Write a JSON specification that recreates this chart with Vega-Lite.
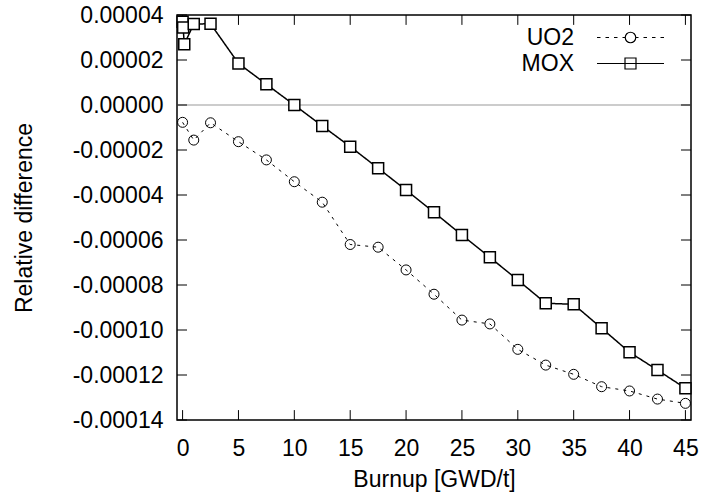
{
  "$schema": "https://vega.github.io/schema/vega-lite/v6.json",
  "width": 514,
  "height": 405,
  "autosize": "none",
  "padding": {"left": 177, "top": 15, "right": 12, "bottom": 77},
  "background": "white",
  "config": {
    "view": {"stroke": "black", "strokeWidth": 1.5},
    "font": "Liberation Sans",
    "axis": {
      "labelFont": "Liberation Sans", "titleFont": "Liberation Sans",
      "labelFontSize": 23, "titleFontSize": 23,
      "labelColor": "black", "titleColor": "black", "titleFontWeight": "normal"
    },
    "legend": {"labelFont": "Liberation Sans", "labelFontSize": 23, "labelColor": "black"}
  },
  "datasets": {
    "d": [
      {"series": "UO2", "x": 0, "y": -7.7e-6},
      {"series": "UO2", "x": 1, "y": -1.56e-5},
      {"series": "UO2", "x": 2.5, "y": -7.9e-6},
      {"series": "UO2", "x": 5, "y": -1.63e-5},
      {"series": "UO2", "x": 7.5, "y": -2.44e-5},
      {"series": "UO2", "x": 10, "y": -3.41e-5},
      {"series": "UO2", "x": 12.5, "y": -4.32e-5},
      {"series": "UO2", "x": 15, "y": -6.2e-5},
      {"series": "UO2", "x": 17.5, "y": -6.32e-5},
      {"series": "UO2", "x": 20, "y": -7.33e-5},
      {"series": "UO2", "x": 22.5, "y": -8.41e-5},
      {"series": "UO2", "x": 25, "y": -9.56e-5},
      {"series": "UO2", "x": 27.5, "y": -9.73e-5},
      {"series": "UO2", "x": 30, "y": -1.086e-4},
      {"series": "UO2", "x": 32.5, "y": -1.156e-4},
      {"series": "UO2", "x": 35, "y": -1.197e-4},
      {"series": "UO2", "x": 37.5, "y": -1.252e-4},
      {"series": "UO2", "x": 40, "y": -1.271e-4},
      {"series": "UO2", "x": 42.5, "y": -1.307e-4},
      {"series": "UO2", "x": 45, "y": -1.326e-4},
      {"series": "MOX", "x": 0, "y": 3.7e-5},
      {"series": "MOX", "x": 0.05, "y": 3.45e-5},
      {"series": "MOX", "x": 0.15, "y": 2.7e-5},
      {"series": "MOX", "x": 1, "y": 3.6e-5},
      {"series": "MOX", "x": 2.5, "y": 3.61e-5},
      {"series": "MOX", "x": 5, "y": 1.85e-5},
      {"series": "MOX", "x": 7.5, "y": 9.2e-6},
      {"series": "MOX", "x": 10, "y": 0},
      {"series": "MOX", "x": 12.5, "y": -9.3e-6},
      {"series": "MOX", "x": 15, "y": -1.85e-5},
      {"series": "MOX", "x": 17.5, "y": -2.81e-5},
      {"series": "MOX", "x": 20, "y": -3.78e-5},
      {"series": "MOX", "x": 22.5, "y": -4.77e-5},
      {"series": "MOX", "x": 25, "y": -5.78e-5},
      {"series": "MOX", "x": 27.5, "y": -6.77e-5},
      {"series": "MOX", "x": 30, "y": -7.78e-5},
      {"series": "MOX", "x": 32.5, "y": -8.81e-5},
      {"series": "MOX", "x": 35, "y": -8.86e-5},
      {"series": "MOX", "x": 37.5, "y": -9.92e-5},
      {"series": "MOX", "x": 40, "y": -1.099e-4},
      {"series": "MOX", "x": 42.5, "y": -1.178e-4},
      {"series": "MOX", "x": 45, "y": -1.259e-4}
    ],
    "zero": [{"y": 0}],
    "xt": [{"v": 0}, {"v": 5}, {"v": 10}, {"v": 15}, {"v": 20}, {"v": 25}, {"v": 30}, {"v": 35}, {"v": 40}, {"v": 45}],
    "yt": [{"v": -0.00014}, {"v": -0.00012}, {"v": -0.0001}, {"v": -0.00008}, {"v": -0.00006}, {"v": -0.00004}, {"v": -0.00002}, {"v": 0}, {"v": 0.00002}, {"v": 0.00004}]
  },
  "resolve": {"scale": {"shape": "independent"}, "legend": {"shape": "independent"}},
  "layer": [
    {
      "data": {"name": "zero"},
      "mark": {"type": "rule", "color": "#999999", "strokeWidth": 1},
      "encoding": {
        "y": {"field": "y", "type": "quantitative"}
      }
    },
    {
      "data": {"name": "xt"},
      "mark": {"type": "rule", "color": "black", "strokeWidth": 1},
      "encoding": {
        "x": {"field": "v", "type": "quantitative"},
        "y": {"datum": -0.00014, "type": "quantitative"},
        "y2": {"datum": -0.0001356}
      }
    },
    {
      "data": {"name": "xt"},
      "mark": {"type": "rule", "color": "black", "strokeWidth": 1},
      "encoding": {
        "x": {"field": "v", "type": "quantitative"},
        "y": {"datum": 0.00004, "type": "quantitative"},
        "y2": {"datum": 0.0000356}
      }
    },
    {
      "data": {"name": "yt"},
      "mark": {"type": "rule", "color": "black", "strokeWidth": 1},
      "encoding": {
        "y": {"field": "v", "type": "quantitative"},
        "x": {"datum": -0.5, "type": "quantitative"},
        "x2": {"datum": 0.395}
      }
    },
    {
      "data": {"name": "yt"},
      "mark": {"type": "rule", "color": "black", "strokeWidth": 1},
      "encoding": {
        "y": {"field": "v", "type": "quantitative"},
        "x": {"datum": 45.5, "type": "quantitative"},
        "x2": {"datum": 44.605}
      }
    },
    {
      "data": {"name": "d"},
      "mark": {"type": "line", "color": "black"},
      "encoding": {
        "x": {
          "field": "x", "type": "quantitative",
          "scale": {"domain": [-0.5, 45.5], "nice": false, "zero": false},
          "axis": {"orient": "bottom", "title": "Burnup [GWD/t]", "values": [0, 5, 10, 15, 20, 25, 30, 35, 40, 45], "domain": false, "grid": false, "ticks": false, "tickSize": 0, "labelPadding": 17, "titlePadding": 8}
        },
        "y": {
          "field": "y", "type": "quantitative",
          "scale": {"domain": [-0.00014, 0.00004], "nice": false, "zero": false},
          "axis": {"orient": "left", "title": "Relative difference", "values": [-0.00014, -0.00012, -0.0001, -0.00008, -0.00006, -0.00004, -0.00002, 0, 0.00002, 0.00004], "labelExpr": "replace(format(datum.value, '.5f'), '\u2212', '-')", "domain": false, "grid": false, "ticks": false, "tickSize": 0, "labelPadding": 14, "titlePadding": 36}
        },
        "detail": {"field": "series"},
        "strokeDash": {"condition": {"test": "datum.series === 'UO2'", "value": [3, 5]}, "value": [1, 0]},
        "strokeWidth": {"condition": {"test": "datum.series === 'MOX'", "value": 1.5}, "value": 1}
      }
    },
    {
      "data": {"name": "d"},
      "mark": {"type": "point", "filled": true, "stroke": "black", "opacity": 1},
      "encoding": {
        "x": {"field": "x", "type": "quantitative"},
        "y": {"field": "y", "type": "quantitative"},
        "shape": {
          "field": "series", "type": "nominal",
          "scale": {"domain": ["UO2", "MOX"], "range": ["circle", "square"]},
          "legend": null
        },
        "size": {"condition": {"test": "datum.series === 'MOX'", "value": 121}, "value": 100},
        "fill": {"condition": {"test": "datum.series === 'MOX'", "value": "white"}, "value": "transparent"},
        "strokeWidth": {"condition": {"test": "datum.series === 'MOX'", "value": 1.5}, "value": 1}
      }
    },
    {
      "data": {"name": "d"},
      "mark": {"type": "point", "filled": false, "color": "black", "opacity": 0, "size": 100, "strokeWidth": 1.2},
      "encoding": {
        "x": {"field": "x", "type": "quantitative"},
        "y": {"field": "y", "type": "quantitative"},
        "shape": {
          "field": "series", "type": "nominal",
          "scale": {"domain": ["UO2", "MOX"], "range": ["M-6.7,0H-6M-5,0H-4.3M-3.3,0H-2.6M-1.6,0H-1.05M-1.05,0A1.05,1.05,0,1,1,1.05,0A1.05,1.05,0,1,1,-1.05,0M1.05,0H1.6M2.6,0H3.3M4.3,0H5M6,0H6.7", "M-6.7,0H6.7M-1.1,-1.1H1.1V1.1H-1.1Z"]},
          "legend": {
            "title": null, "orient": "none", "legendX": 442, "legendY": 11,
            "labelAlign": "right", "labelOffset": -68, "rowPadding": 2,
            "symbolOpacity": 1, "symbolSize": 100, "symbolStrokeColor": "black", "symbolFillColor": "transparent", "symbolStrokeWidth": 1.2
          }
        }
      }
    }
  ]
}
